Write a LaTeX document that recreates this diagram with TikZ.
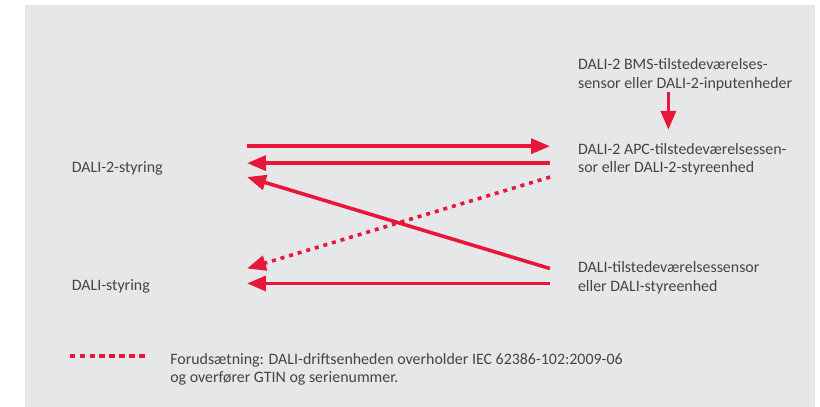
\documentclass[tikz,border=0pt]{standalone}
\usepackage{fontspec}
\setmainfont{Carlito}
\usepackage{xcolor}
\usetikzlibrary{arrows.meta, positioning}
\definecolor{dalired}{HTML}{E8173A}
\definecolor{daligray}{HTML}{E6E7E9}
\definecolor{dalitext}{HTML}{444444}
\tikzset{
  >={Triangle[length=19pt,width=15pt]},
  % tekstfelter
  txt/.style={text=dalitext,font=\fontsize{16}{18.8}\selectfont,inner sep=0pt,align=left,anchor=west},
  txt right/.style={txt,inner xsep=28pt},
  % pile
  pil/.style={->,line width=3.6pt,dalired},
  pil dash/.style={pil,dash pattern=on 4pt off 5pt},
  key line/.style={line width=4pt,dalired,dash pattern=on 5.3pt off 4.7pt}
}

\begin{document}
\begin{tikzpicture}[x=1pt,y=-1pt]

% baggrund
\fill[white] (0,0) rectangle (820,409);
\fill[daligray] (25,5) rectangle (819,409);

% styringer
\node[txt,text width=176pt] (dali2) at (72,169) {DALI-2-styring};
\node[txt,text width=176pt] (dali) at (72,288) {DALI-styring};

% sensorer
\node[txt right] (bms) at (553,75.5) {DALI-2 BMS-tilstedeværelses-\\sensor eller DALI-2-inputenheder};
\node[txt right] (apc) at (553,160) {DALI-2 APC-tilstedeværelsessen-\\sor eller DALI-2-styreenhed};
\node[txt right] (sensor) at (553,279.5) {DALI-tilstedeværelsessensor\\eller DALI-styreenhed};

% forbindelser
\draw[pil] ([xshift=119pt,yshift=-1pt]bms.south west) -- ([xshift=119pt,yshift=13pt]apc.north west);
\draw[pil] ([yshift=22pt]dali2.east) -- ([yshift=13pt]apc.west);
\draw[pil] ([yshift=-4pt]apc.west) -- ([yshift=5pt]dali2.east);
\draw[pil] ([yshift=9.5pt]sensor.west) -- ([yshift=-9pt]dali2.east);
\draw[pil dash] ([yshift=-18pt]apc.west) -- ([yshift=18pt]dali.east);
\draw[pil] ([yshift=-5.5pt]sensor.west) -- ([yshift=3pt]dali.east);

% forklaring
\coordinate (key a) at (70,358);
\coordinate (key b) at (146,358);
\draw[key line] (key a) -- (key b);
\node[txt] (note) at (171,371.5) {Forudsætning: DALI-driftsenheden overholder IEC 62386-102:2009-06\\og overfører GTIN og serienummer.};

\end{tikzpicture}
\end{document}
